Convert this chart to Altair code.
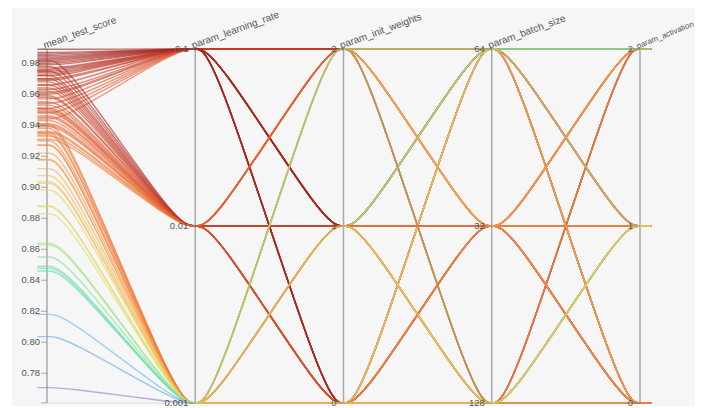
import altair as alt
import pandas as pd

# ---------------- data (one row per grid-search run, in drawing order) ----------------
learning_rate = [
    0.001, 0.001, 0.001,
    0.1, 0.1, 0.1, 0.1, 0.1, 0.1, 0.1, 0.1, 0.1,
    0.1, 0.1, 0.1, 0.1, 0.1, 0.1, 0.1, 0.1, 0.1,
    0.1, 0.1, 0.1, 0.1, 0.1, 0.1, 0.1, 0.1, 0.1,
    0.01, 0.01, 0.01, 0.01, 0.01, 0.01, 0.01, 0.01,
    0.01, 0.01, 0.01, 0.01, 0.01, 0.01, 0.01, 0.01, 0.01,
    0.01, 0.01, 0.01, 0.01, 0.01, 0.01, 0.01, 0.01, 0.01,
    0.001, 0.001, 0.001, 0.001, 0.001, 0.001, 0.001, 0.001, 0.001, 0.001,
    0.001, 0.001, 0.001, 0.001, 0.001, 0.001, 0.001, 0.001, 0.001, 0.001, 0.001,
    0.001, 0.01, 0.001, 0.001,
]
init_weights = [
    0, 1, 2,
    2, 2, 2, 2, 2, 2, 2, 2, 2,
    1, 1, 1, 1, 1, 1, 1, 1, 1,
    0, 0, 0, 0, 0, 0, 0, 0, 0,
    2, 2, 2, 2, 2, 2, 2, 2,
    1, 1, 1, 1, 1, 1, 1, 1, 1,
    0, 0, 0, 0, 0, 0, 0, 0, 0,
    0, 1, 2, 0, 1, 2, 0, 1, 2, 0,
    1, 2, 0, 1, 2, 0, 1, 2, 0, 1, 2,
    0, 2, 1, 2,
]
batch_size = [
    128, 128, 128,
    128, 128, 128, 32, 32, 32, 64, 64, 64,
    128, 128, 128, 32, 32, 32, 64, 64, 64,
    128, 128, 128, 32, 32, 32, 64, 64, 64,
    128, 128, 32, 32, 32, 64, 64, 64,
    128, 128, 128, 32, 32, 32, 64, 64, 64,
    128, 128, 128, 32, 32, 32, 64, 64, 64,
    64, 64, 128, 64, 64, 64, 128, 128, 128, 64,
    64, 64, 32, 32, 32, 32, 32, 32, 32, 32, 32,
    128, 128, 128, 64,
]
activation = [
    2, 2, 2,
    0, 1, 2, 0, 1, 2, 0, 1, 2,
    0, 1, 2, 0, 1, 2, 0, 1, 2,
    0, 1, 2, 0, 1, 2, 0, 1, 2,
    1, 2, 0, 1, 2, 0, 1, 2,
    0, 1, 2, 0, 1, 2, 0, 1, 2,
    0, 1, 2, 0, 1, 2, 0, 1, 2,
    2, 2, 1, 1, 1, 1, 0, 0, 0, 0,
    0, 0, 0, 0, 0, 1, 1, 1, 2, 2, 2,
    1, 0, 1, 2,
]
mean_test_score = [
    0.818, 0.8036, 0.7707,
    0.944, 0.961, 0.954, 0.979, 0.976, 0.957, 0.981, 0.973, 0.966,
    0.948, 0.970, 0.977, 0.974, 0.982, 0.960, 0.989, 0.984, 0.986,
    0.951, 0.969, 0.975, 0.972, 0.980, 0.963, 0.987, 0.983, 0.985,
    0.936, 0.931, 0.958, 0.951, 0.940, 0.966, 0.955, 0.943,
    0.948, 0.941, 0.933, 0.972, 0.964, 0.950, 0.978, 0.968, 0.962,
    0.946, 0.939, 0.935, 0.975, 0.970, 0.953, 0.982, 0.959, 0.949,
    0.8628, 0.849, 0.846, 0.9075, 0.8477, 0.9176, 0.9026, 0.8983, 0.8639, 0.9036,
    0.888, 0.927, 0.9273, 0.935, 0.922, 0.9337, 0.940, 0.918, 0.930, 0.938, 0.912,
    0.883, 0.945, 0.8875, 0.855,
]

# axis titles and category labels (bottom -> top)
axis_titles = ["mean_test_score", "param_learning_rate", "param_init_weights",
               "param_batch_size", "param_activation"]
lr_levels = ["0.001", "0.01", "0.1"]
iw_levels = ["0", "1", "2"]
bs_levels = ["128", "32", "64"]
ac_levels = ["0", "1", "2"]
score_ticks = [0.78, 0.80, 0.82, 0.84, 0.86, 0.88, 0.90, 0.92, 0.94, 0.96, 0.98]
score_axis_range = [0.7608, 0.9892]

# ---------------- tables ----------------
runs = pd.DataFrame({
    "run": list(range(len(mean_test_score))),
    "mean_test_score": mean_test_score,
    "param_learning_rate": learning_rate,
    "param_init_weights": init_weights,
    "param_batch_size": batch_size,
    "param_activation": activation,
})
axes_df = pd.DataFrame({"pos": list(range(len(axis_titles))), "title": axis_titles})
cat_rows = []
for p, levels in enumerate([lr_levels, iw_levels, bs_levels, ac_levels], start=1):
    for i, lab in enumerate(levels):
        cat_rows.append({"pos": p, "level": i, "label": lab})
cat_df = pd.DataFrame(cat_rows)
score_tick_df = pd.DataFrame({"value": score_ticks})
score_end_df = pd.DataFrame({"value": score_axis_range})

LO, HI = score_axis_range
norm_expr = f"(datum.value - {LO}) / ({HI} - {LO})"

FONT = "Liberation Sans"
xs = alt.Scale(domain=[-0.23609, 4.37100], nice=False, zero=False)
ys = alt.Scale(domain=[-0.00847, 1.11582], nice=False, zero=False)

color_dom = [0.7707, 0.80, 0.82, 0.85, 0.87, 0.89, 0.91, 0.93, 0.95, 0.97, 0.989]
color_rng = ["#8a7cc4", "#6a9ee6", "#62c0ea", "#6ede98", "#b2e474", "#e8d860",
             "#f6b455", "#f2843f", "#e05a30", "#c23a26", "#9e2020"]

X = alt.X("pos:Q", scale=xs, axis=None)
Y = alt.Y("norm:Q", scale=ys, axis=None)

# ---------------- polylines (axis points + short flat shoulders for the smooth curve) ----------------
H = 0.12
vertex_pos = {
    "ext_l": -0.065, "s": 0, "s_r": H,
    "lr_l": 1 - H, "lr": 1, "lr_r": 1 + H,
    "iw_l": 2 - H, "iw": 2, "iw_r": 2 + H,
    "bs_l": 3 - H, "bs": 3, "bs_r": 3 + H,
    "ac_l": 4 - H, "ac": 4, "ext_r": 4.075,
}
keys = list(vertex_pos.keys())
pos_expr = " : ".join(f"datum.key == '{k}' ? {v}" for k, v in vertex_pos.items()) + " : 0"

lines = (
    alt.Chart(runs)
    .transform_calculate(
        s=f"(datum.mean_test_score - {LO}) / ({HI} - {LO})",
        lr="(datum.param_learning_rate == 0.001 ? 0 : (datum.param_learning_rate == 0.01 ? 1 : 2)) / 2",
        iw="datum.param_init_weights / 2",
        bs="(datum.param_batch_size == 128 ? 0 : (datum.param_batch_size == 32 ? 1 : 2)) / 2",
        ac="datum.param_activation / 2",
    )
    .transform_calculate(
        ext_l="datum.s", s_r="datum.s",
        lr_l="datum.lr", lr_r="datum.lr",
        iw_l="datum.iw", iw_r="datum.iw",
        bs_l="datum.bs", bs_r="datum.bs",
        ac_l="datum.ac", ext_r="datum.ac",
    )
    .transform_fold(keys, as_=["key", "norm"])
    .transform_calculate(pos=pos_expr)
    .mark_line(interpolate="basis", strokeWidth=1.4, opacity=0.62)
    .encode(
        x=X,
        y=Y,
        detail="run:N",
        order="pos:Q",
        color=alt.Color("mean_test_score:Q",
                        scale=alt.Scale(domain=color_dom, range=color_rng),
                        legend=None),
    )
)

# ---------------- axes ----------------
axis_lines = (
    alt.Chart(axes_df)
    .transform_calculate(norm="0", norm2="1")
    .mark_rule(color="#aaaaaa", strokeWidth=1.5)
    .encode(x=X, y=Y, y2="norm2:Q")
)
base_line = (
    alt.Chart(axes_df)
    .transform_filter("datum.pos == 0")
    .transform_calculate(norm="0", pos2="4")
    .mark_rule(color="#dddddd", strokeWidth=1)
    .encode(x=X, x2="pos2:Q", y=Y)
)

tick_kw = dict(orient="horizontal", size=6, thickness=1, xOffset=-3, color="#888888")
label_kw = dict(align="right", baseline="middle", dx=-7, fontSize=9.5, font=FONT, color="#555555")

cat_ticks = (
    alt.Chart(cat_df).transform_calculate(norm="datum.level / 2")
    .mark_tick(**tick_kw).encode(x=X, y=Y)
)
cat_labels = (
    alt.Chart(cat_df).transform_calculate(norm="datum.level / 2")
    .mark_text(**label_kw).encode(x=X, y=Y, text="label:N")
)
score_ticks_m = (
    alt.Chart(score_tick_df).transform_calculate(norm=norm_expr, pos="0")
    .mark_tick(**tick_kw).encode(x=X, y=Y)
)
score_end_m = (
    alt.Chart(score_end_df).transform_calculate(norm=norm_expr, pos="0")
    .mark_tick(**tick_kw).encode(x=X, y=Y)
)
score_labels = (
    alt.Chart(score_tick_df).transform_calculate(norm=norm_expr, pos="0")
    .mark_text(**label_kw).encode(x=X, y=Y, text=alt.Text("value:Q", format=".2f"))
)

titles_big = (
    alt.Chart(axes_df)
    .transform_filter("datum.pos < 4")
    .transform_calculate(norm="1")
    .mark_text(align="left", baseline="alphabetic", angle=340, dx=-2, dy=-1,
               fontSize=10, font=FONT, color="#555555")
    .encode(x=X, y=Y, text="title:N")
)
titles_small = (
    alt.Chart(axes_df)
    .transform_filter("datum.pos == 4")
    .transform_calculate(norm="1")
    .mark_text(align="left", baseline="alphabetic", angle=338, dx=-2, dy=-1,
               fontSize=8, font=FONT, color="#555555")
    .encode(x=X, y=Y, text="title:N")
)

chart = (
    alt.layer(base_line, axis_lines, lines, cat_ticks, score_ticks_m, score_end_m,
              cat_labels, score_labels, titles_big, titles_small)
    .properties(
        width=683, height=398,
        padding={"left": 4, "top": 0, "right": 0, "bottom": 2},
        autosize=alt.AutoSizeParams(type="none"),
        background="#ffffff",
    )
    .configure_view(fill="#f6f6f6", stroke=None)
)

chart.save("out.html", embed_options={"renderer": "svg", "actions": False})
